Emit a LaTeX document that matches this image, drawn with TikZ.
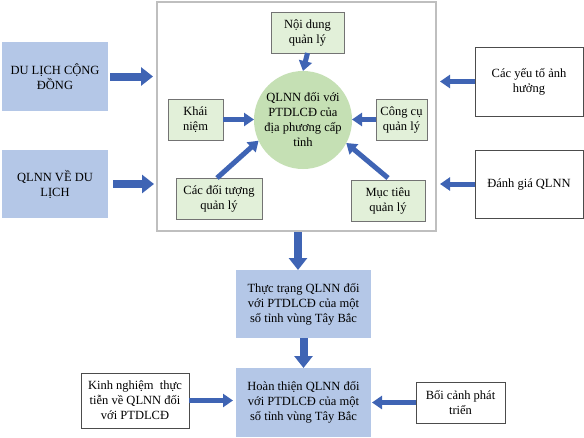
\documentclass[tikz,border=0pt]{standalone}
\usepackage{fontspec}
\setmainfont{Liberation Serif}
\usetikzlibrary{arrows.meta}
\definecolor{bluefill}{HTML}{B4C7E7}
\definecolor{greenfill}{HTML}{E2F0D9}
\definecolor{circfill}{HTML}{C5E0B4}
\definecolor{arrowblue}{HTML}{3F64B4}
\definecolor{frame}{HTML}{BFBFBF}
\begin{document}
\begin{tikzpicture}[x=1pt,y=-1pt,
  every node/.style={font=\fontsize{12.5}{15}\selectfont, align=center, inner sep=0pt, outer sep=0pt},
  bluebox/.style={fill=bluefill, minimum width=#1},
  greenbox/.style={fill=greenfill, draw=black!55, line width=0.7pt},
  whitebox/.style={fill=white, draw=black!70, line width=0.7pt},
  thickarrow/.style={draw=arrowblue, line width=8pt, -{Triangle[width=18pt,length=12pt]}},
  thinarrow/.style={draw=arrowblue, line width=5pt, -{Triangle[width=13pt,length=10pt]}},
]
\useasboundingbox (0,0) rectangle (584,437);
% main frame
\node[draw=frame, line width=1.5pt, fill=white, minimum width=279pt, minimum height=229pt] (big) at (296.5,116.5) {};
% left boxes
\node[fill=bluefill, minimum width=106pt, minimum height=69pt] (dl) at (55,76.5) {DU LỊCH CỘNG\\ĐỒNG};
\node[fill=bluefill, minimum width=106pt, minimum height=68pt] (ql) at (55,184) {QLNN VỀ DU\\LỊCH};
% right boxes
\node[whitebox, minimum width=108pt, minimum height=69pt] (yt) at (529,81.5) {Các yếu tố ảnh\\hưởng};
\node[whitebox, minimum width=108pt, minimum height=68pt] (dg) at (529,184) {Đánh giá QLNN};
% inner
\node[circle, fill=circfill, minimum size=98pt] (c) at (303,120) {};
\node at (303,120) {QLNN đối với\\PTDLCĐ của\\địa phương cấp\\tỉnh};
\node[greenbox, minimum width=73pt, minimum height=41pt] (nd) at (307.5,32.5) {Nội dung\\quản lý};
\node[greenbox, minimum width=55pt, minimum height=41pt] (kn) at (195.5,119.5) {Khái\\niệm};
\node[greenbox, minimum width=51pt, minimum height=41pt] (cc) at (401.5,119.5) {Công cụ\\quản lý};
\node[greenbox, minimum width=86pt, minimum height=41pt] (dt) at (219,198.5) {Các đối tượng\\quản lý};
\node[greenbox, minimum width=74pt, minimum height=41pt] (mt) at (388,200.5) {Mục tiêu\\quản lý};
% lower
\node[fill=bluefill, minimum width=135pt, minimum height=68pt] (tt) at (303.5,304) {Thực trạng QLNN đối\\với PTDLCĐ của một\\số tỉnh vùng Tây Bắc};
\node[fill=bluefill, minimum width=135pt, minimum height=69pt] (ht) at (303.5,402.5) {Hoàn thiện QLNN đối\\với PTDLCĐ của một\\số tỉnh vùng Tây Bắc};
\node[whitebox, minimum width=108pt, minimum height=55pt] (kng) at (135,400.5) {Kinh nghiệm~ thực\\tiễn về QLNN đối\\với PTDLCĐ};
\node[whitebox, minimum width=89pt, minimum height=41pt] (bc) at (460.5,402.5) {Bối cảnh phát\\triển};
% arrows
\draw[thickarrow, shorten <=2pt, shorten >=4pt] (dl.east) -- (dl.east -| big.west);
\draw[thickarrow, shorten <=5pt, shorten >=3pt] (ql.east) -- (ql.east -| big.west);
\draw[thinarrow, shorten >=4pt] (yt.west) -- (yt.west -| big.east);
\draw[thinarrow, shorten >=4pt] (dg.west) -- (dg.west -| big.east);
\draw[thinarrow] (nd.south) -- (c.north);
\draw[thinarrow] (kn.east) -- (c.west |- kn.east);
\draw[thinarrow] (cc.west) -- (c.east |- cc.west);
\coordinate (dts) at (217,178);
\coordinate (mts) at (388,178);
\draw[thinarrow] (dts) -- (c.-155);
\draw[thinarrow] (mts) -- (c.-28);
\coordinate (bigb) at (298,231);
\draw[thickarrow, shorten <=1pt] (bigb) -- (bigb |- tt.north);
\draw[thickarrow] (tt.south) ++(0,0) coordinate (tts) -- (tts |- ht.north);
\draw[thinarrow, shorten >=3pt] (kng.east) -- (kng.east -| ht.west);
\draw[thinarrow, shorten >=1pt] (bc.west) -- (bc.west -| ht.east);
\end{tikzpicture}
\end{document}
